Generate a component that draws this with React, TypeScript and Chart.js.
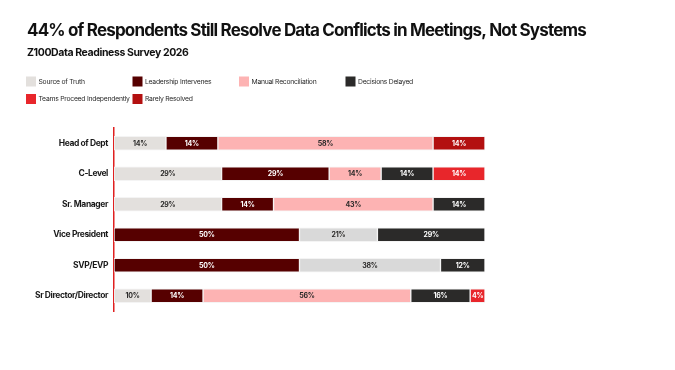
import React, { useEffect, useRef } from "react";
import { Chart, registerables } from "chart.js";

Chart.register(...registerables);

const categories = ["Head of Dept", "C-Level", "Sr. Manager", "Vice President", "SVP/EVP", "Sr Director/Director"];
const sourceOfTruth = [14, 29, 29, 0, 0, 10];
const leadershipIntervenes = [14, 29, 14, 50, 50, 14];
const manualReconciliation = [58, 14, 43, 0, 0, 56];
const otherUnlabeled = [0, 0, 0, 21, 38, 0];
const decisionsDelayed = [0, 14, 14, 29, 12, 16];
const teamsProceed = [0, 14, 0, 0, 0, 4];
const rarelyResolved = [14, 0, 0, 0, 0, 0];

const TITLE = "44% of Respondents Still Resolve Data Conflicts in Meetings, Not Systems";
const SUBTITLE = "Z100Data Readiness Survey 2026";
const FONT = "Inter, 'Liberation Sans', sans-serif";

const seriesDefs = [
  { label: "Source of Truth", data: sourceOfTruth, color: "#e3e0dd", text: "#2b2a29", legend: true },
  { label: "Leadership Intervenes", data: leadershipIntervenes, color: "#560000", text: "#ffffff", legend: true },
  { label: "Manual Reconciliation", data: manualReconciliation, color: "#fdb3b3", text: "#2b2a29", legend: true },
  { label: "Other", data: otherUnlabeled, color: "#d9d9d9", text: "#2b2a29", legend: false },
  { label: "Decisions Delayed", data: decisionsDelayed, color: "#2b2a29", text: "#ffffff", legend: true },
  { label: "Teams Proceed Independently", data: teamsProceed, color: "#e8262b", text: "#ffffff", legend: true },
  { label: "Rarely Resolved", data: rarelyResolved, color: "#b31010", text: "#ffffff", legend: true },
];

const trackingPlugin = {
  id: "tracking",
  beforeDraw(chart: any) {
    (chart.ctx as any).letterSpacing = "-0.4px";
  },
};

const headerPlugin = {
  id: "header",
  afterDraw(chart: any) {
    const ctx = chart.ctx;
    ctx.save();
    ctx.textAlign = "left";
    ctx.textBaseline = "middle";
    ctx.fillStyle = "#111111";
    ctx.font = `700 17px ${FONT}`;
    (ctx as any).letterSpacing = "-0.82px";
    ctx.fillText(TITLE, 27, 31);
    ctx.font = `700 10.5px ${FONT}`;
    (ctx as any).letterSpacing = "-0.4px";
    ctx.fillText(SUBTITLE, 27, 52.5);
    ctx.restore();
  },
};

const barLabelPlugin = {
  id: "barLabels",
  afterDatasetsDraw(chart: any) {
    const ctx = chart.ctx;
    ctx.save();
    ctx.font = `700 7px ${FONT}`;
    (ctx as any).letterSpacing = "-0.25px";
    ctx.textAlign = "center";
    ctx.textBaseline = "middle";
    chart.data.datasets.forEach((ds: any, di: number) => {
      const meta = chart.getDatasetMeta(di);
      meta.data.forEach((el: any, i: number) => {
        const v = ds.data[i];
        if (!v) return;
        const p = el.getProps(["x", "y", "base"], true);
        ctx.fillStyle = ds.labelColor;
        ctx.fillText(`${v}%`, (p.x + p.base) / 2, p.y + 0.5);
      });
    });
    ctx.restore();
  },
};

const legendPlugin = {
  id: "gridLegend",
  afterDraw(chart: any) {
    const ctx = chart.ctx;
    ctx.save();
    ctx.font = `400 6.8px ${FONT}`;
    (ctx as any).letterSpacing = "-0.25px";
    ctx.textBaseline = "middle";
    ctx.textAlign = "left";
    const items = chart.data.datasets.filter((d: any) => d.showInLegend);
    const colW = 106.5;
    items.forEach((d: any, idx: number) => {
      const row = Math.floor(idx / 4);
      const col = idx % 4;
      const x = 26 + col * colW;
      const y = 81.5 + row * 17.5;
      ctx.fillStyle = d.backgroundColor;
      ctx.fillRect(x, y - 5, 10, 10);
      ctx.fillStyle = "#2a2a2a";
      ctx.fillText(d.label, x + 12.5, y);
    });
    ctx.restore();
  },
};

export default function App() {
  const ref = useRef<HTMLCanvasElement | null>(null);
  useEffect(() => {
    document.body.style.margin = "0";
    const canvas = ref.current!;
    const chart = new Chart(canvas, {
      type: "bar",
      data: {
        labels: categories,
        datasets: seriesDefs.map((s) => ({
          label: s.label,
          data: s.data,
          backgroundColor: s.color,
          borderColor: "#f4f4f4",
          borderWidth: 1,
          borderSkipped: false,
          barThickness: 14,
          labelColor: s.text,
          showInLegend: s.legend,
        })) as any,
      },
      options: {
        indexAxis: "y",
        animation: false,
        responsive: false,
        maintainAspectRatio: false,
        layout: { padding: { left: 27, right: 190, top: 128, bottom: 59 } },
        plugins: {
          legend: { display: false },
          tooltip: { enabled: false },
          title: { display: false },
        },
        scales: {
          x: {
            stacked: true,
            min: 0,
            max: 100,
            display: false,
          },
          y: {
            stacked: true,
            grid: { display: false, drawTicks: false },
            border: { display: true, color: "#e02020", width: 1.5 },
            ticks: {
              color: "#1a1a1a",
              padding: 6,
              font: { family: FONT, size: 8.5, weight: "700" },
            },
            afterFit(scale: any) {
              scale.width = 87;
            },
          },
        },
      },
      plugins: [trackingPlugin, barLabelPlugin, legendPlugin, headerPlugin],
    } as any);
    return () => chart.destroy();
  }, []);
  return (
    <div style={{ width: 675, height: 370, background: "#ffffff" }}>
      <canvas ref={ref} width={675} height={370} style={{ display: "block", width: 675, height: 370 }} />
    </div>
  );
}
